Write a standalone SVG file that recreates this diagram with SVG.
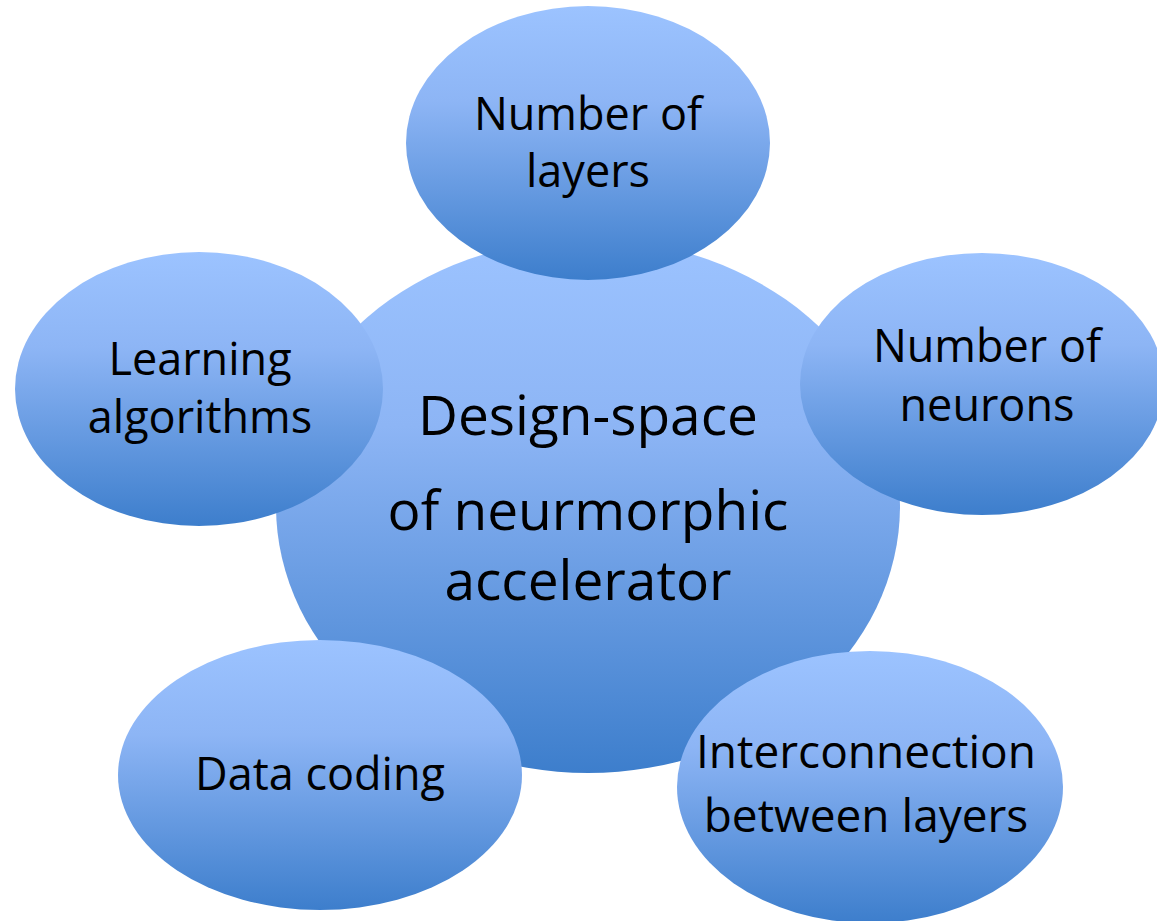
<svg xmlns="http://www.w3.org/2000/svg" width="1157" height="921" viewBox="0 0 1157 921">
  <defs>
    <linearGradient id="blueFill" x1="0" y1="0" x2="0" y2="1">
      <stop offset="0" stop-color="#9CC3FF"/>
      <stop offset="0.35" stop-color="#8DB5F5"/>
      <stop offset="1" stop-color="#3D7ECC"/>
    </linearGradient>
  </defs>
  <style>
    .bubble { fill: url(#blueFill); stroke: none; }
    .label { font-family: "Open Sans", "Noto Sans", sans-serif; font-size: 45px; fill: #000; text-anchor: middle; }
    .main { font-size: 55px; }
  </style>
  <rect width="1157" height="921" fill="#fff"/>

  <g id="connectors"></g>

  <g id="center">
    <ellipse class="bubble" cx="588" cy="506" rx="312" ry="267"/>
  </g>

  <g id="number-of-layers">
    <ellipse class="bubble" cx="588" cy="143" rx="182" ry="137"/>
    <text class="label" x="588" y="130">Number of</text>
    <text class="label" x="588" y="187">layers</text>
  </g>

  <g id="learning-algorithms">
    <ellipse class="bubble" cx="199" cy="389" rx="184" ry="137"/>
    <text class="label" x="200" y="375">Learning</text>
    <text class="label" x="200" y="433">algorithms</text>
  </g>

  <g id="number-of-neurons">
    <ellipse class="bubble" cx="982" cy="384" rx="182" ry="131"/>
    <text class="label" x="987" y="362">Number of</text>
    <text class="label" x="987" y="421">neurons</text>
  </g>

  <g id="center-label">
    <text class="label main" x="588" y="435">Design-space</text>
    <text class="label main" x="588" y="530">of neurmorphic</text>
    <text class="label main" x="588" y="600">accelerator</text>
  </g>

  <g id="data-coding">
    <ellipse class="bubble" cx="320" cy="775" rx="202" ry="135"/>
    <text class="label" x="320" y="790">Data coding</text>
  </g>

  <g id="interconnection">
    <ellipse class="bubble" cx="870" cy="787" rx="193" ry="136"/>
    <text class="label" x="866" y="768" style="font-size:46px">Interconnection</text>
    <text class="label" x="866" y="832" style="font-size:46px">between layers</text>
  </g>
</svg>
